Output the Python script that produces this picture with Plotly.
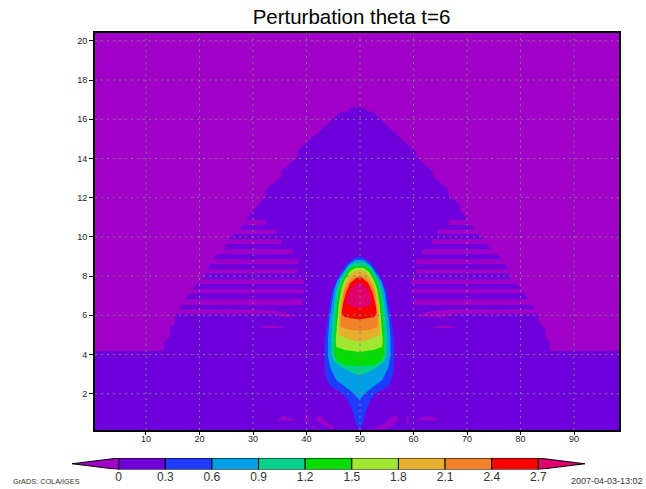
import plotly.graph_objects as go

TITLE = "Perturbation theta t=6"
X_TICKS = [10, 20, 30, 40, 50, 60, 70, 80, 90]
Y_TICKS = [2, 4, 6, 8, 10, 12, 14, 16, 18, 20]
X_RANGE = [0.47, 98.4]
Y_RANGE = [0.15, 20.4]
LEVELS = [0, 0.3, 0.6, 0.9, 1.2, 1.5, 1.8, 2.1, 2.4, 2.7]
LEVEL_LABELS = ["0", "0.3", "0.6", "0.9", "1.2", "1.5", "1.8", "2.1", "2.4", "2.7"]
COLORS = ["#a000c8", "#6e00dc", "#1e3cff", "#00a0e6", "#00d28c", "#00dc00",
          "#a0e632", "#e6af2d", "#f08228", "#fa0000", "#e0006e"]

# boundary of the 0 contour: main pyramid
hull_x = [0.47, 0.47, 13.31, 13.31, 14.43, 14.43, 15.36, 15.36, 16.3, 17.36, 18.73, 20.6, 21.53, 22.47,
          24.7, 25.27, 27.64, 28.64, 32.37, 32.37, 34.62, 35.36, 35.36, 38.36, 38.36, 43.03, 46.52,
          47.7, 48.27, 50.69, 51.38, 52.37, 53.68, 59.85, 60.54, 60.54, 63.59, 63.59, 66.58, 66.58,
          68.64, 68.64, 70.13, 71.07, 72.37, 74.24, 76.43, 77.6, 77.98, 79.85, 81.16, 82.47, 83.2,
          83.6, 84.66, 84.66, 85.46, 85.46, 98.4, 98.4]
hull_y = [0.15, 4.18, 4.18, 4.64, 4.91, 5.36, 5.56, 5.93, 6.38, 6.84, 7.35, 7.86, 8.37, 8.88,
          9.39, 9.85, 10.41, 10.87, 12.09, 12.4, 12.91, 13.08, 13.37, 14.1, 14.39, 15.56, 16.39,
          16.39, 16.6, 16.6, 16.39, 16.39, 16.02, 14.44, 14.35, 14.1, 13.32, 13.08, 12.4, 12.14,
          11.63, 11.38, 10.9, 10.46, 10.1, 9.44, 8.88, 8.37, 7.97, 7.45, 6.94, 6.43, 5.97,
          5.61, 5.26, 4.85, 4.59, 4.18, 4.18, 0.15]

# banded negative stripes on each flank
stripe_top = [10.87, 10.36, 9.88, 9.37, 8.86, 8.35, 7.84, 7.33, 6.82]
stripe_bot = [10.61, 10.15, 9.64, 9.13, 8.62, 8.14, 7.60, 7.12, 6.53]
stripe_left_out = [26, 25, 23, 22, 20, 19, 18, 16, 15]
stripe_left_in = [32.37, 34.37, 35.3, 37.42, 38.36, 38.36, 39.48, 39.48, 39.23]
stripe_right_in = [66.58, 64.47, 63.53, 61.59, 60.54, 60.54, 59.6, 59.6, 60.0]
stripe_right_out = [73, 74, 76, 78, 80, 81, 83, 84, 85]

# irregular negative patches
patches = [
    ([15.5, 29.4, 34.37, 36.2, 38.36, 36.2, 33.67, 15.5], [6.31, 6.31, 6.24, 6.11, 5.97, 5.9, 6.07, 6.07]),
    ([85, 67.38, 62.6, 60.41, 65.2, 67.7, 85], [6.31, 6.31, 6.19, 5.97, 5.88, 6.07, 6.07]),
    ([30.6, 33.1, 36.2, 33.1], [5.38, 5.51, 5.36, 5.34]),
    ([62.9, 65.8, 68.3, 65.8], [5.36, 5.51, 5.36, 5.34]),
    ([33.0, 33.3, 33.2], [0.9, 0.9, 0.8]),
    ([65.3, 65.6, 65.5], [0.9, 0.9, 0.8]),
    ([34.4, 35.6, 38.4], [0.63, 0.87, 0.63]),
    ([39.8, 40.4, 40.4, 39.8], [0.92, 0.92, 0.5, 0.5]),
    ([41.85, 42.46, 43.7, 45.3, 44.65, 43.1, 41.85], [0.83, 0.92, 0.58, 0.32, 0.19, 0.41, 0.66]),
    ([40.9, 41.5, 41.85], [0.32, 0.41, 0.19]),
    ([56.2, 56.9, 57.1, 55.9, 54.3, 52.4, 54.6], [0.87, 0.92, 0.66, 0.32, 0.19, 0.19, 0.49]),
    ([58.7, 59.1, 59.1, 58.7], [0.87, 0.87, 0.46, 0.46]),
    ([60.3, 61.8, 63, 64.6], [0.63, 0.8, 0.87, 0.66]),
]

# central plume: height and half-width of each filled level
PLUME_CENTRE = 49.85
plume = [
    ([8.98, 8.67, 8.16, 7.30, 6.43, 5.61, 4.74, 3.93, 3.06, 2.55, 2.35, 2.04, 1.68, 1.33, 1.02, 0.66, 0.31, 0.15],
     [0.56, 2.24, 3.55, 5.05, 5.61, 6.07, 6.45, 6.55, 6.36, 5.79, 5.23, 3.18, 2.06, 1.59, 1.12, 0.84, 0.37, 0]),
    ([8.83, 8.57, 7.76, 7.30, 6.53, 5.66, 4.74, 3.93, 3.32, 2.70, 2.36, 2.04, 1.68],
     [0.75, 2.06, 4.11, 4.67, 5.14, 5.61, 5.85, 5.85, 5.42, 4.3, 2.62, 1.12, 0]),
    ([8.69, 8.42, 7.76, 7.30, 6.53, 5.66, 4.74, 3.98, 3.62, 3.32, 3.11, 2.96],
     [0.93, 2.24, 3.64, 4.21, 4.67, 5.05, 5.23, 5.14, 4.67, 3.18, 1.68, 0]),
    ([8.52, 8.32, 7.76, 7.30, 6.53, 5.66, 4.74, 3.98, 3.67, 3.47, 3.42],
     [0.93, 2.06, 3.18, 3.74, 4.21, 4.49, 4.67, 4.67, 4.11, 2.8, 0]),
    ([8.42, 8.21, 7.76, 7.30, 6.53, 5.66, 4.74, 4.39, 4.23, 4.13],
     [0.75, 1.87, 2.8, 3.36, 3.83, 4.11, 4.39, 4.3, 2.62, 0]),
    ([8.27, 8.06, 7.76, 7.30, 6.53, 5.66, 5.05, 4.85, 4.69, 4.66],
     [0.75, 1.68, 2.43, 3.08, 3.55, 3.83, 3.93, 2.8, 0.93, 0]),
    ([8.01, 7.76, 7.30, 6.53, 5.77, 5.41, 5.26, 5.20],
     [0.75, 1.87, 2.8, 3.27, 3.46, 3.46, 1.87, 0]),
    ([7.91, 7.65, 7.14, 6.53, 6.12, 5.92, 5.82, 5.79],
     [0.47, 1.68, 2.52, 3.08, 3.27, 2.8, 0.93, 0]),
    ([7.65, 7.30, 6.79, 6.58, 6.43, 6.38],
     [0.56, 1.68, 2.34, 2.24, 1.12, 0]),
]

fig = go.Figure()


def poly(x, y, color):
    fig.add_trace(go.Scatter(x=x, y=y, mode="lines", fill="toself", fillcolor=color,
                             line=dict(width=0, color=color), hoverinfo="skip", showlegend=False))


poly([X_RANGE[0], X_RANGE[1], X_RANGE[1], X_RANGE[0]], [Y_RANGE[0], Y_RANGE[0], Y_RANGE[1], Y_RANGE[1]], COLORS[0])
poly(hull_x, hull_y, COLORS[1])
for t, b, lo, li, ri, ro in zip(stripe_top, stripe_bot, stripe_left_out, stripe_left_in, stripe_right_in, stripe_right_out):
    poly([lo, li, li, lo], [t, t, b, b], COLORS[0])
    poly([ri, ro, ro, ri], [t, t, b, b], COLORS[0])
for px_, py_ in patches:
    poly(px_, py_, COLORS[0])
for i, (ys, hws) in enumerate(plume):
    xs = [PLUME_CENTRE - h for h in hws] + [PLUME_CENTRE + h for h in reversed(hws)]
    poly(xs, ys + ys[::-1], COLORS[i + 2])

# dotted grid drawn above the fill
gx, gy = [], []
for v in X_TICKS:
    gx += [v, v, None]
    gy += [Y_RANGE[0], Y_RANGE[1], None]
for v in Y_TICKS:
    gx += [X_RANGE[0], X_RANGE[1], None]
    gy += [v, v, None]
fig.add_trace(go.Scatter(x=gx, y=gy, mode="lines", line=dict(color="#808080", width=1, dash="2px,4px"),
                         hoverinfo="skip", showlegend=False))

# colour key
for i in range(len(LEVELS) - 1):
    fig.add_trace(go.Bar(x=[LEVELS[i + 1] - LEVELS[i]], base=[LEVELS[i]], y=[0.5], width=[1], orientation="h",
                         marker=dict(color=COLORS[i + 1], line=dict(color="black", width=1)),
                         xaxis="x2", yaxis="y2", hoverinfo="skip", showlegend=False))
for xs, c in (([-0.3, 0, 0], COLORS[0]), ([3.0, 2.7, 2.7], COLORS[-1])):
    fig.add_trace(go.Scatter(x=xs + xs[:1], y=[0.5, 1, 0, 0.5], mode="lines", fill="toself", fillcolor=c,
                             line=dict(color="black", width=1), xaxis="x2", yaxis="y2",
                             hoverinfo="skip", showlegend=False))

W, H = 646, 489
MT = 20


def fx(p):
    return p / W


def fy(p):
    return 1 - (p - MT) / (H - MT)


TICK_FONT = dict(family="Liberation Sans", size=9, color="#222222")
fig.update_layout(
    width=W, height=H, autosize=False, margin=dict(l=0, r=0, t=MT, b=0),
    paper_bgcolor="white", plot_bgcolor="white", barmode="overlay",
    title=dict(text=TITLE, x=fx(351.5), xanchor="center", y=1 - 17 / H, yanchor="middle",
               font=dict(family="Liberation Sans", size=20.5, color="black")),
    xaxis=dict(domain=[fx(95), fx(619)], range=X_RANGE, tickmode="array", tickvals=X_TICKS, ticks="outside",
               ticklen=3, tickcolor="black", showgrid=False, zeroline=False, showline=True, mirror=True,
               linecolor="black", linewidth=2, tickfont=TICK_FONT, anchor="y", ticklabelstandoff=-4),
    yaxis=dict(domain=[fy(430), fy(33)], range=Y_RANGE, tickmode="array", tickvals=Y_TICKS, ticks="outside",
               ticklen=4, tickcolor="black", showgrid=False, zeroline=False, showline=True, mirror=True,
               linecolor="black", linewidth=2, tickfont=TICK_FONT, anchor="x"),
    xaxis2=dict(domain=[fx(72), fx(585)], range=[-0.3, 3.0], tickmode="array", tickvals=LEVELS,
                ticktext=LEVEL_LABELS, ticks="", showgrid=False, zeroline=False, showline=False,
                tickfont=dict(family="Liberation Sans", size=12, color="#333333"), anchor="y2",
                ticklabelstandoff=-2),
    yaxis2=dict(domain=[fy(469.5), fy(458)], range=[0, 1], showticklabels=False, ticks="",
                showgrid=False, zeroline=False, showline=False, anchor="x2"),
    annotations=[
        dict(text="GrADS: COLA/IGES", x=fx(11), y=fy(481), xref="paper", yref="paper", xanchor="left",
             yanchor="middle", showarrow=False, font=dict(family="Liberation Sans", size=7.3, color="#333333")),
        dict(text="2007-04-03-13:02", x=fx(569), y=fy(481), xref="paper", yref="paper", xanchor="left",
             yanchor="middle", showarrow=False, font=dict(family="Liberation Sans", size=9, color="#333333")),
    ],
)
fig.write_html("out.html", config={"displayModeBar": False}, post_script="document.body.style.margin='0';")
